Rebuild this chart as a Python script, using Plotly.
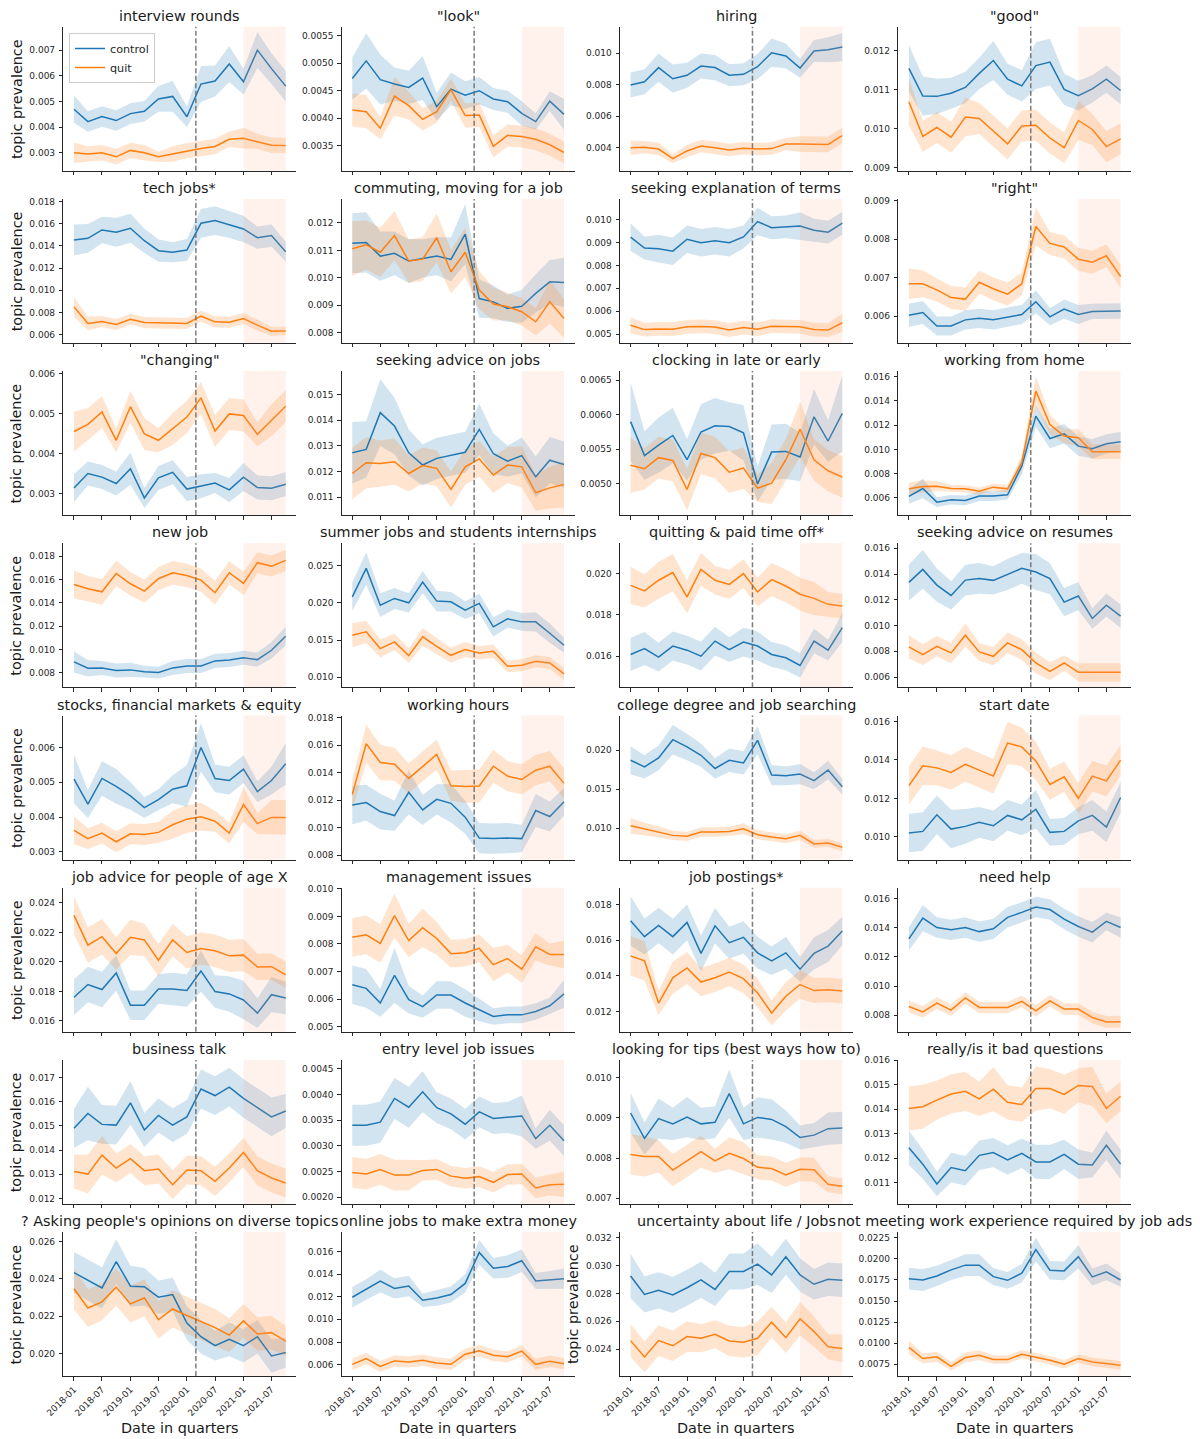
import pandas as pd
import plotly.graph_objects as go

# ---------------- data ----------------
quarters = pd.date_range("2018-01-01", periods=16, freq="QS")
covid_date = pd.Timestamp("2020-02-28")
shade_start = pd.Timestamp("2021-01-01")
shade_end = pd.Timestamp("2021-10-01")
x_tick_dates = pd.date_range("2018-01-01", "2021-07-01", freq="6MS")
x_tick_labels = ["2018-01", "2018-07", "2019-01", "2019-07", "2020-01", "2020-07", "2021-01", "2021-07"]

topics = [
    "interview rounds", '"look"', "hiring", '"good"',
    "tech jobs*", "commuting, moving for a job", "seeking explanation of terms", '"right"',
    '"changing"', "seeking advice on jobs", "clocking in late or early", "working from home",
    "new job", "summer jobs and students internships", "quitting & paid time off*", "seeking advice on resumes",
    "stocks, financial markets & equity", "working hours", "college degree and job searching", "start date",
    "job advice for people of age X", "management issues", "job postings*", "need help",
    "business talk", "entry level job issues", "looking for tips (best ways how to)", "really/is it bad questions",
    "? Asking people's opinions on diverse topics", "online jobs to make extra money",
    "uncertainty about life / Jobs", "not meeting work experience required by job ads",
]

t01_control = [0.00470, 0.00422, 0.00442, 0.00426, 0.00453, 0.00462, 0.00510, 0.00520, 0.00441, 0.00568, 0.00580, 0.00646, 0.00577, 0.00700, 0.00628, 0.00560]
t01_control_ci = [0.00053, 0.0004, 0.0004, 0.0004, 0.0004, 0.0004, 0.0005, 0.0006, 0.0004, 0.0007, 0.0006, 0.0007, 0.0005, 0.0007, 0.0006, 0.0006]
t01_quit = [0.00301, 0.00296, 0.00301, 0.00285, 0.00310, 0.00301, 0.00285, 0.00296, 0.00309, 0.00317, 0.00325, 0.00353, 0.00357, 0.00345, 0.00330, 0.00329]
t01_quit_ci = [0.0004, 0.0003, 0.0003, 0.0003, 0.0003, 0.0003, 0.0002, 0.0003, 0.0003, 0.0003, 0.0003, 0.0003, 0.0004, 0.0003, 0.0003, 0.0003]

t02_control = [0.00472, 0.00504, 0.00470, 0.00462, 0.00456, 0.00473, 0.00421, 0.00453, 0.00442, 0.00450, 0.00435, 0.00430, 0.00409, 0.00394, 0.00431, 0.00407]
t02_control_ci = [0.00038, 0.0005, 0.00045, 0.0003, 0.0003, 0.0004, 0.00025, 0.0003, 0.00025, 0.00025, 0.0002, 0.0002, 0.00022, 0.00015, 0.00018, 0.00028]
t02_quit = [0.00415, 0.00412, 0.00382, 0.00440, 0.00423, 0.00398, 0.00412, 0.00452, 0.00405, 0.00406, 0.00349, 0.00369, 0.00367, 0.00362, 0.00352, 0.00338]
t02_quit_ci = [0.0003, 0.0003, 0.0002, 0.00035, 0.00025, 0.0002, 0.0002, 0.0002, 0.00022, 0.00022, 0.0002, 0.0002, 0.0002, 0.0002, 0.0002, 0.0002]

t03_control = [0.00798, 0.00819, 0.00909, 0.00838, 0.00860, 0.00919, 0.00909, 0.00860, 0.00866, 0.00915, 0.01004, 0.00983, 0.00906, 0.01015, 0.01023, 0.01040]
t03_control_ci = [0.0008, 0.0008, 0.0009, 0.0009, 0.0008, 0.0008, 0.0008, 0.0007, 0.0007, 0.0008, 0.0009, 0.0008, 0.0006, 0.0007, 0.0008, 0.0009]
t03_quit = [0.00398, 0.00400, 0.00389, 0.00328, 0.00377, 0.00409, 0.00398, 0.00383, 0.00394, 0.00389, 0.00392, 0.00421, 0.00421, 0.00419, 0.00419, 0.00475]
t03_quit_ci = [0.00045, 0.0004, 0.0004, 0.0003, 0.0004, 0.0004, 0.0004, 0.0004, 0.0004, 0.0004, 0.0004, 0.0004, 0.0005, 0.0005, 0.0005, 0.0005]

t04_control = [0.01155, 0.01084, 0.01083, 0.01091, 0.01106, 0.01142, 0.01175, 0.01127, 0.01110, 0.01162, 0.01171, 0.01101, 0.01085, 0.01102, 0.01127, 0.01098]
t04_control_ci = [0.0006, 0.0005, 0.00045, 0.0004, 0.0004, 0.0004, 0.0005, 0.0004, 0.0004, 0.0006, 0.0006, 0.0004, 0.00038, 0.00035, 0.00035, 0.00035]
t04_quit = [0.01069, 0.00980, 0.01003, 0.00978, 0.01030, 0.01026, 0.00994, 0.00961, 0.01007, 0.01009, 0.00976, 0.00951, 0.01021, 0.00998, 0.00954, 0.00974]
t04_quit_ci = [0.0006, 0.0004, 0.0004, 0.0004, 0.0005, 0.0004, 0.0004, 0.0004, 0.0004, 0.0004, 0.0004, 0.0004, 0.0005, 0.0004, 0.0004, 0.0004]

t05_control = [0.01453, 0.01468, 0.01544, 0.01523, 0.01559, 0.01447, 0.01357, 0.01342, 0.01363, 0.01604, 0.01628, 0.01592, 0.01553, 0.01474, 0.01493, 0.01348]
t05_control_ci = [0.0014, 0.0013, 0.0012, 0.0013, 0.0013, 0.0011, 0.0010, 0.0009, 0.0010, 0.0013, 0.0013, 0.0012, 0.0012, 0.0010, 0.0010, 0.0009]
t05_quit = [0.00850, 0.00700, 0.00718, 0.00691, 0.00739, 0.00709, 0.00706, 0.00700, 0.00700, 0.00766, 0.00715, 0.00712, 0.00745, 0.00685, 0.00630, 0.00633]
t05_quit_ci = [0.0009, 0.0006, 0.0005, 0.0005, 0.0005, 0.0005, 0.0005, 0.0005, 0.0005, 0.0005, 0.0005, 0.0005, 0.0005, 0.0005, 0.0004, 0.0004]

t06_control = [0.01126, 0.01129, 0.01079, 0.01089, 0.01061, 0.01071, 0.01079, 0.01067, 0.01159, 0.00924, 0.00912, 0.00888, 0.00896, 0.00943, 0.00985, 0.00983]
t06_control_ci = [0.0011, 0.0011, 0.0009, 0.0008, 0.0008, 0.0007, 0.0007, 0.0008, 0.0011, 0.0007, 0.0006, 0.0005, 0.0006, 0.0007, 0.0008, 0.0009]
t06_quit = [0.01106, 0.01120, 0.01093, 0.01154, 0.01061, 0.01068, 0.01146, 0.01022, 0.01093, 0.00955, 0.00904, 0.00894, 0.00876, 0.00839, 0.00912, 0.00851]
t06_quit_ci = [0.0010, 0.0009, 0.0009, 0.0009, 0.0008, 0.0008, 0.0009, 0.0008, 0.0009, 0.0007, 0.0006, 0.0005, 0.0005, 0.0005, 0.0008, 0.0007]

t07_control = [0.00923, 0.00876, 0.00873, 0.00862, 0.00914, 0.00899, 0.00907, 0.00899, 0.00924, 0.00991, 0.00964, 0.00968, 0.00972, 0.00953, 0.00945, 0.00984]
t07_control_ci = [0.0006, 0.0005, 0.0006, 0.0006, 0.0006, 0.0006, 0.0006, 0.0006, 0.0005, 0.0006, 0.0005, 0.0005, 0.0006, 0.0005, 0.0005, 0.0005]
t07_quit = [0.00539, 0.00520, 0.00523, 0.00522, 0.00532, 0.00534, 0.00531, 0.00518, 0.00529, 0.00522, 0.00535, 0.00532, 0.00532, 0.00520, 0.00518, 0.00550]
t07_quit_ci = [0.00035, 0.0003, 0.0003, 0.0003, 0.0003, 0.0003, 0.0003, 0.0003, 0.0003, 0.0003, 0.0003, 0.0003, 0.0003, 0.0003, 0.0003, 0.0004]

t08_control = [0.00602, 0.00609, 0.00574, 0.00574, 0.00590, 0.00594, 0.00590, 0.00597, 0.00604, 0.00637, 0.00598, 0.00618, 0.00604, 0.00612, 0.00613, 0.00613]
t08_control_ci = [0.0003, 0.0003, 0.00025, 0.00025, 0.00025, 0.00025, 0.00025, 0.00025, 0.00025, 0.0003, 0.00022, 0.00025, 0.00025, 0.0002, 0.0002, 0.0002]
t08_quit = [0.00684, 0.00684, 0.00668, 0.00648, 0.00644, 0.00688, 0.00671, 0.00657, 0.00684, 0.00833, 0.00789, 0.00780, 0.00748, 0.00740, 0.00757, 0.00703]
t08_quit_ci = [0.0004, 0.00035, 0.0003, 0.0003, 0.0003, 0.0003, 0.0003, 0.0003, 0.0003, 0.0005, 0.0003, 0.0003, 0.0003, 0.0003, 0.0003, 0.0003]

t09_control = [0.00314, 0.00350, 0.00341, 0.00325, 0.00362, 0.00289, 0.00339, 0.00353, 0.00311, 0.00318, 0.00326, 0.00309, 0.00341, 0.00315, 0.00313, 0.00323]
t09_control_ci = [0.00035, 0.0003, 0.0003, 0.0003, 0.0004, 0.00025, 0.0003, 0.0003, 0.0003, 0.0003, 0.00025, 0.0003, 0.00035, 0.0003, 0.0003, 0.0003]
t09_quit = [0.00455, 0.00473, 0.00504, 0.00433, 0.00517, 0.00449, 0.00433, 0.00461, 0.00491, 0.00539, 0.00456, 0.00499, 0.00495, 0.00448, 0.00483, 0.00518]
t09_quit_ci = [0.0005, 0.0004, 0.0004, 0.0003, 0.0004, 0.0004, 0.0003, 0.0004, 0.0004, 0.0004, 0.0004, 0.0004, 0.0004, 0.0003, 0.0004, 0.0004]

t10_control = [0.01273, 0.01286, 0.01429, 0.01377, 0.01273, 0.01225, 0.01251, 0.01262, 0.01275, 0.01364, 0.01269, 0.01240, 0.01262, 0.01179, 0.01244, 0.01227]
t10_control_ci = [0.0012, 0.0011, 0.0013, 0.0011, 0.0009, 0.0008, 0.0008, 0.0008, 0.0008, 0.0010, 0.0008, 0.0006, 0.0007, 0.0008, 0.0009, 0.0009]
t10_quit = [0.01192, 0.01234, 0.01231, 0.01238, 0.01192, 0.01223, 0.01212, 0.01130, 0.01218, 0.01249, 0.01186, 0.01225, 0.01218, 0.01117, 0.01136, 0.01149]
t10_quit_ci = [0.0010, 0.0010, 0.0009, 0.0009, 0.0007, 0.0007, 0.0007, 0.0007, 0.0007, 0.0007, 0.0007, 0.0007, 0.0008, 0.0007, 0.0008, 0.0009]

t11_control = [0.00590, 0.00541, 0.00556, 0.00570, 0.00535, 0.00575, 0.00584, 0.00583, 0.00574, 0.00500, 0.00546, 0.00547, 0.00539, 0.00597, 0.00562, 0.00602]
t11_control_ci = [0.00057, 0.00035, 0.0004, 0.0004, 0.0003, 0.0004, 0.0004, 0.00035, 0.0004, 0.00025, 0.0004, 0.0004, 0.00035, 0.0004, 0.0003, 0.00055]
t11_quit = [0.00527, 0.00522, 0.00538, 0.00534, 0.00492, 0.00544, 0.00538, 0.00517, 0.00523, 0.00494, 0.00501, 0.00535, 0.00579, 0.00535, 0.00519, 0.00510]
t11_quit_ci = [0.0004, 0.0003, 0.0003, 0.0003, 0.0003, 0.0003, 0.0003, 0.0003, 0.0003, 0.0002, 0.0003, 0.0003, 0.0004, 0.0003, 0.0003, 0.0003]

t12_control = [0.00611, 0.00677, 0.00564, 0.00584, 0.00578, 0.00614, 0.00614, 0.00625, 0.00862, 0.01275, 0.01090, 0.01129, 0.01027, 0.01005, 0.01046, 0.01063]
t12_control_ci = [0.0006, 0.0008, 0.0004, 0.0004, 0.0004, 0.0004, 0.0004, 0.0004, 0.0007, 0.0009, 0.0008, 0.0008, 0.0008, 0.0008, 0.0008, 0.0008]
t12_quit = [0.00674, 0.00694, 0.00696, 0.00677, 0.00674, 0.00655, 0.00688, 0.00674, 0.00889, 0.01482, 0.01206, 0.01110, 0.01096, 0.00980, 0.00980, 0.00980]
t12_quit_ci = [0.0005, 0.0005, 0.0004, 0.0003, 0.0003, 0.0003, 0.0003, 0.0003, 0.0006, 0.0012, 0.0008, 0.0006, 0.0007, 0.0006, 0.0006, 0.0006]

t13_control = [0.00894, 0.00840, 0.00843, 0.00820, 0.00826, 0.00811, 0.00803, 0.00843, 0.00860, 0.00860, 0.00903, 0.00911, 0.00929, 0.00914, 0.00994, 0.01114]
t13_control_ci = [0.0009, 0.0007, 0.0006, 0.0006, 0.0006, 0.0005, 0.0005, 0.0006, 0.0006, 0.0006, 0.0006, 0.0006, 0.0006, 0.0006, 0.0007, 0.0008]
t13_quit = [0.01557, 0.01520, 0.01494, 0.01651, 0.01563, 0.01500, 0.01606, 0.01657, 0.01634, 0.01594, 0.01486, 0.01657, 0.01566, 0.01743, 0.01714, 0.01763]
t13_quit_ci = [0.0012, 0.0011, 0.0011, 0.0011, 0.0010, 0.0010, 0.0010, 0.0010, 0.0010, 0.0010, 0.0010, 0.0010, 0.0010, 0.0009, 0.0009, 0.0009]

t14_control = [0.02079, 0.02460, 0.01967, 0.02057, 0.01998, 0.02276, 0.02021, 0.02012, 0.01900, 0.01990, 0.01676, 0.01784, 0.01743, 0.01743, 0.01591, 0.01430]
t14_control_ci = [0.0019, 0.0022, 0.0016, 0.0014, 0.0013, 0.0015, 0.0014, 0.0013, 0.0012, 0.0013, 0.0013, 0.0012, 0.0012, 0.0013, 0.0013, 0.0010]
t14_quit = [0.01564, 0.01609, 0.01385, 0.01475, 0.01291, 0.01542, 0.01416, 0.01295, 0.01372, 0.01327, 0.01349, 0.01148, 0.01161, 0.01215, 0.01192, 0.01045]
t14_quit_ci = [0.0016, 0.0015, 0.0012, 0.0011, 0.0010, 0.0012, 0.0011, 0.0010, 0.0010, 0.0009, 0.0009, 0.0008, 0.0008, 0.0008, 0.0008, 0.0008]

t15_control = [0.01608, 0.01637, 0.01595, 0.01649, 0.01629, 0.01600, 0.01673, 0.01632, 0.01668, 0.01649, 0.01608, 0.01592, 0.01555, 0.01673, 0.01629, 0.01738]
t15_control_ci = [0.0008, 0.0008, 0.0007, 0.0007, 0.0007, 0.0007, 0.0007, 0.0006, 0.0007, 0.0007, 0.0006, 0.0006, 0.0006, 0.0006, 0.0005, 0.0007]
t15_quit = [0.01943, 0.01916, 0.01968, 0.02005, 0.01887, 0.02021, 0.01968, 0.01948, 0.02000, 0.01911, 0.01971, 0.01940, 0.01900, 0.01880, 0.01851, 0.01843]
t15_quit_ci = [0.0009, 0.0008, 0.0009, 0.0009, 0.0008, 0.0008, 0.0007, 0.0007, 0.0007, 0.0007, 0.0008, 0.0008, 0.0008, 0.0008, 0.0006, 0.0006]

t16_control = [0.01335, 0.01436, 0.01314, 0.01234, 0.01353, 0.01366, 0.01351, 0.01397, 0.01444, 0.01416, 0.01364, 0.01182, 0.01229, 0.01055, 0.01158, 0.01073]
t16_control_ci = [0.0014, 0.0015, 0.0013, 0.0011, 0.0012, 0.0012, 0.0011, 0.0012, 0.0012, 0.0014, 0.0012, 0.0011, 0.0011, 0.0008, 0.0009, 0.0009]
t16_quit = [0.00834, 0.00774, 0.00839, 0.00787, 0.00925, 0.00795, 0.00761, 0.00865, 0.00813, 0.00709, 0.00644, 0.00709, 0.00636, 0.00636, 0.00636, 0.00636]
t16_quit_ci = [0.0009, 0.0008, 0.0008, 0.0008, 0.0009, 0.0007, 0.0007, 0.0008, 0.0008, 0.0008, 0.0007, 0.0006, 0.0007, 0.0007, 0.0007, 0.0007]

t17_control = [0.00509, 0.00437, 0.00511, 0.00488, 0.00461, 0.00427, 0.00450, 0.00480, 0.00490, 0.00600, 0.00511, 0.00505, 0.00538, 0.00473, 0.00505, 0.00553]
t17_control_ci = [0.0007, 0.0004, 0.0005, 0.0005, 0.0004, 0.0003, 0.0003, 0.0004, 0.0006, 0.0007, 0.0004, 0.0004, 0.0004, 0.0003, 0.0004, 0.0006]
t17_quit = [0.00362, 0.00338, 0.00354, 0.00329, 0.00352, 0.00350, 0.00356, 0.00378, 0.00394, 0.00401, 0.00388, 0.00354, 0.00436, 0.00381, 0.00399, 0.00399]
t17_quit_ci = [0.0004, 0.0003, 0.0003, 0.0003, 0.0003, 0.0003, 0.0003, 0.0004, 0.0004, 0.0004, 0.0003, 0.0003, 0.0005, 0.0003, 0.0005, 0.0005]

t18_control = [0.01166, 0.01183, 0.01118, 0.01089, 0.01258, 0.01130, 0.01207, 0.01178, 0.01077, 0.00925, 0.00921, 0.00925, 0.00921, 0.01125, 0.01082, 0.01190]
t18_control_ci = [0.0014, 0.0013, 0.0013, 0.0011, 0.0016, 0.0011, 0.0011, 0.0014, 0.0012, 0.0011, 0.0011, 0.0011, 0.0010, 0.0012, 0.0011, 0.0010]
t18_quit = [0.01243, 0.01612, 0.01475, 0.01463, 0.01359, 0.01448, 0.01533, 0.01306, 0.01301, 0.01304, 0.01448, 0.01376, 0.01352, 0.01419, 0.01448, 0.01323]
t18_quit_ci = [0.0011, 0.0014, 0.0013, 0.0012, 0.0011, 0.0011, 0.0011, 0.0011, 0.0012, 0.0012, 0.0012, 0.0011, 0.0011, 0.0011, 0.0011, 0.0011]

t19_control = [0.01872, 0.01787, 0.01902, 0.02136, 0.02043, 0.01936, 0.01766, 0.01872, 0.01838, 0.02128, 0.01681, 0.01672, 0.01694, 0.01609, 0.01745, 0.01532]
t19_control_ci = [0.0018, 0.0015, 0.0016, 0.0019, 0.0017, 0.0015, 0.0013, 0.0015, 0.0015, 0.0018, 0.0013, 0.0012, 0.0013, 0.0011, 0.0012, 0.0010]
t19_quit = [0.01030, 0.00987, 0.00949, 0.00906, 0.00894, 0.00949, 0.00949, 0.00957, 0.00992, 0.00915, 0.00885, 0.00864, 0.00906, 0.00796, 0.00809, 0.00753]
t19_quit_ci = [0.0010, 0.0008, 0.0007, 0.0006, 0.0006, 0.0006, 0.0006, 0.0006, 0.0007, 0.0006, 0.0006, 0.0006, 0.0006, 0.0005, 0.0005, 0.0005]

t20_control = [0.01021, 0.01029, 0.01115, 0.01041, 0.01055, 0.01076, 0.01058, 0.01112, 0.01089, 0.01144, 0.01024, 0.01029, 0.01084, 0.01112, 0.01052, 0.01205]
t20_control_ci = [0.0010, 0.0010, 0.0010, 0.0010, 0.0009, 0.0008, 0.0008, 0.0008, 0.0008, 0.0010, 0.0007, 0.0007, 0.0007, 0.0008, 0.0008, 0.0008]
t20_quit = [0.01267, 0.01370, 0.01359, 0.01335, 0.01377, 0.01347, 0.01316, 0.01488, 0.01468, 0.01395, 0.01273, 0.01313, 0.01201, 0.01316, 0.01291, 0.01399]
t20_quit_ci = [0.0010, 0.0010, 0.0009, 0.0009, 0.0009, 0.0009, 0.0009, 0.0011, 0.0010, 0.0010, 0.0008, 0.0008, 0.0008, 0.0008, 0.0008, 0.0008]

t21_control = [0.01760, 0.01847, 0.01813, 0.01925, 0.01707, 0.01707, 0.01817, 0.01817, 0.01806, 0.01938, 0.01799, 0.01783, 0.01742, 0.01653, 0.01778, 0.01755]
t21_control_ci = [0.0012, 0.0012, 0.0012, 0.0012, 0.0010, 0.0010, 0.0010, 0.0011, 0.0011, 0.0014, 0.0011, 0.0012, 0.0013, 0.0010, 0.0012, 0.0011]
t21_quit = [0.02315, 0.02114, 0.02171, 0.02057, 0.02167, 0.02149, 0.02011, 0.02149, 0.02064, 0.02091, 0.02075, 0.02041, 0.02046, 0.01966, 0.01968, 0.01913]
t21_quit_ci = [0.0013, 0.0012, 0.0012, 0.0011, 0.0012, 0.0011, 0.0011, 0.0011, 0.0011, 0.0011, 0.0011, 0.0011, 0.0011, 0.0009, 0.0009, 0.0009]

t22_control = [0.00652, 0.00639, 0.00586, 0.00686, 0.00598, 0.00573, 0.00615, 0.00615, 0.00586, 0.00560, 0.00537, 0.00543, 0.00543, 0.00555, 0.00576, 0.00619]
t22_control_ci = [0.0007, 0.0007, 0.0005, 0.0010, 0.0005, 0.0004, 0.0005, 0.0005, 0.0005, 0.0004, 0.0003, 0.0003, 0.0003, 0.0003, 0.0003, 0.0005]
t22_quit = [0.00824, 0.00833, 0.00802, 0.00903, 0.00812, 0.00859, 0.00820, 0.00765, 0.00768, 0.00784, 0.00725, 0.00747, 0.00709, 0.00790, 0.00762, 0.00762]
t22_quit_ci = [0.0007, 0.0007, 0.0007, 0.0008, 0.0006, 0.0007, 0.0006, 0.0005, 0.0005, 0.0005, 0.0006, 0.0005, 0.0005, 0.0005, 0.0004, 0.0005]

t23_control = [0.01709, 0.01620, 0.01683, 0.01620, 0.01700, 0.01526, 0.01681, 0.01586, 0.01616, 0.01529, 0.01484, 0.01529, 0.01437, 0.01526, 0.01567, 0.01652]
t23_control_ci = [0.0014, 0.0010, 0.0010, 0.0010, 0.0010, 0.0010, 0.0010, 0.0009, 0.0009, 0.0009, 0.0008, 0.0009, 0.0007, 0.0009, 0.0009, 0.0008]
t23_quit = [0.01512, 0.01484, 0.01247, 0.01389, 0.01444, 0.01365, 0.01389, 0.01421, 0.01384, 0.01304, 0.01191, 0.01285, 0.01351, 0.01317, 0.01321, 0.01314]
t23_quit_ci = [0.0011, 0.0011, 0.0007, 0.0009, 0.0009, 0.0008, 0.0008, 0.0008, 0.0008, 0.0008, 0.0007, 0.0008, 0.0008, 0.0007, 0.0007, 0.0007]

t24_control = [0.01323, 0.01466, 0.01401, 0.01385, 0.01401, 0.01373, 0.01392, 0.01471, 0.01505, 0.01542, 0.01524, 0.01459, 0.01408, 0.01369, 0.01443, 0.01401]
t24_control_ci = [0.0008, 0.0009, 0.0007, 0.0007, 0.0007, 0.0007, 0.0007, 0.0007, 0.0007, 0.0007, 0.0007, 0.0007, 0.0007, 0.0007, 0.0006, 0.0007]
t24_quit = [0.00860, 0.00823, 0.00883, 0.00835, 0.00918, 0.00853, 0.00853, 0.00853, 0.00895, 0.00830, 0.00899, 0.00842, 0.00842, 0.00784, 0.00754, 0.00756]
t24_quit_ci = [0.0004, 0.0004, 0.0004, 0.0004, 0.0004, 0.0004, 0.0004, 0.0004, 0.0004, 0.0004, 0.0004, 0.0004, 0.0004, 0.0004, 0.0004, 0.0004]

t25_control = [0.01490, 0.01551, 0.01506, 0.01503, 0.01595, 0.01483, 0.01543, 0.01503, 0.01537, 0.01652, 0.01625, 0.01660, 0.01613, 0.01574, 0.01537, 0.01561]
t25_control_ci = [0.0008, 0.0011, 0.0008, 0.0008, 0.0009, 0.0007, 0.0007, 0.0007, 0.0007, 0.0008, 0.0008, 0.0008, 0.0008, 0.0008, 0.0008, 0.0007]
t25_quit = [0.01312, 0.01301, 0.01379, 0.01326, 0.01365, 0.01315, 0.01322, 0.01257, 0.01318, 0.01315, 0.01271, 0.01326, 0.01390, 0.01315, 0.01285, 0.01264]
t25_quit_ci = [0.0007, 0.0008, 0.0008, 0.0006, 0.0006, 0.0006, 0.0006, 0.0006, 0.0006, 0.0006, 0.0006, 0.0006, 0.0006, 0.0006, 0.0006, 0.0006]

t26_control = [0.00340, 0.00340, 0.00346, 0.00392, 0.00375, 0.00405, 0.00374, 0.00362, 0.00342, 0.00366, 0.00353, 0.00355, 0.00358, 0.00314, 0.00340, 0.00310]
t26_control_ci = [0.0004, 0.0004, 0.0004, 0.0004, 0.0004, 0.0004, 0.0003, 0.0003, 0.0003, 0.0003, 0.0003, 0.0003, 0.0004, 0.0002, 0.0003, 0.0003]
t26_quit = [0.00248, 0.00245, 0.00254, 0.00243, 0.00243, 0.00252, 0.00254, 0.00241, 0.00237, 0.00240, 0.00229, 0.00244, 0.00245, 0.00218, 0.00224, 0.00225]
t26_quit_ci = [0.0003, 0.0003, 0.0003, 0.0003, 0.0003, 0.0002, 0.0002, 0.0002, 0.0002, 0.0002, 0.0002, 0.0002, 0.0002, 0.0002, 0.0002, 0.00025]

t27_control = [0.00912, 0.00849, 0.00898, 0.00885, 0.00902, 0.00885, 0.00889, 0.00960, 0.00885, 0.00901, 0.00896, 0.00878, 0.00851, 0.00857, 0.00873, 0.00875]
t27_control_ci = [0.0005, 0.0004, 0.0005, 0.0004, 0.0005, 0.0004, 0.0004, 0.0006, 0.0004, 0.0005, 0.0005, 0.0004, 0.0003, 0.0003, 0.0004, 0.0004]
t27_quit = [0.00809, 0.00804, 0.00804, 0.00770, 0.00793, 0.00816, 0.00793, 0.00812, 0.00799, 0.00777, 0.00774, 0.00758, 0.00772, 0.00771, 0.00735, 0.00730]
t27_quit_ci = [0.0005, 0.0005, 0.0004, 0.0004, 0.0004, 0.0004, 0.0003, 0.0004, 0.0004, 0.0003, 0.0003, 0.0003, 0.0003, 0.0003, 0.0002, 0.0002]

t28_control = [0.01243, 0.01176, 0.01095, 0.01162, 0.01149, 0.01212, 0.01223, 0.01193, 0.01220, 0.01185, 0.01185, 0.01216, 0.01176, 0.01173, 0.01253, 0.01176]
t28_control_ci = [0.0007, 0.0006, 0.0005, 0.0006, 0.0006, 0.0006, 0.0006, 0.0006, 0.0006, 0.0007, 0.0007, 0.0006, 0.0006, 0.0005, 0.0006, 0.0006]
t28_quit = [0.01403, 0.01410, 0.01437, 0.01462, 0.01473, 0.01442, 0.01482, 0.01428, 0.01419, 0.01484, 0.01484, 0.01460, 0.01497, 0.01493, 0.01403, 0.01453]
t28_quit_ci = [0.0009, 0.0009, 0.0008, 0.0008, 0.0008, 0.0007, 0.0009, 0.0007, 0.0007, 0.0009, 0.0008, 0.0008, 0.0007, 0.0008, 0.0006, 0.0006]

t29_control = [0.02434, 0.02392, 0.02352, 0.02493, 0.02361, 0.02358, 0.02302, 0.02316, 0.02163, 0.02090, 0.02042, 0.02076, 0.02042, 0.02090, 0.01987, 0.02005]
t29_control_ci = [0.0011, 0.0011, 0.0011, 0.0012, 0.0011, 0.0010, 0.0009, 0.0009, 0.0009, 0.0009, 0.0008, 0.0009, 0.0009, 0.0009, 0.0009, 0.0008]
t29_quit = [0.02347, 0.02244, 0.02277, 0.02356, 0.02266, 0.02298, 0.02181, 0.02239, 0.02204, 0.02172, 0.02139, 0.02099, 0.02175, 0.02105, 0.02112, 0.02067]
t29_quit_ci = [0.0011, 0.0010, 0.0010, 0.0010, 0.0010, 0.0010, 0.0010, 0.0010, 0.0010, 0.0010, 0.0010, 0.0009, 0.0009, 0.0009, 0.0009, 0.0008]

t30_control = [0.01195, 0.01264, 0.01338, 0.01273, 0.01294, 0.01169, 0.01189, 0.01219, 0.01317, 0.01591, 0.01451, 0.01466, 0.01517, 0.01338, 0.01347, 0.01359]
t30_control_ci = [0.0009, 0.0009, 0.0010, 0.0009, 0.0009, 0.0006, 0.0007, 0.0007, 0.0008, 0.0011, 0.0009, 0.0010, 0.0010, 0.0007, 0.0008, 0.0009]
t30_quit = [0.00603, 0.00654, 0.00585, 0.00633, 0.00624, 0.00639, 0.00615, 0.00603, 0.00692, 0.00722, 0.00683, 0.00669, 0.00719, 0.00603, 0.00630, 0.00609]
t30_quit_ci = [0.0005, 0.0005, 0.0005, 0.0005, 0.0005, 0.0005, 0.0005, 0.0005, 0.0005, 0.0005, 0.0005, 0.0005, 0.0005, 0.0005, 0.0005, 0.0005]

t31_control = [0.02926, 0.02793, 0.02822, 0.02790, 0.02841, 0.02897, 0.02829, 0.02958, 0.02958, 0.03011, 0.02933, 0.03064, 0.02933, 0.02866, 0.02902, 0.02895]
t31_control_ci = [0.0016, 0.0013, 0.0013, 0.0013, 0.0013, 0.0013, 0.0012, 0.0013, 0.0013, 0.0015, 0.0013, 0.0013, 0.0012, 0.0011, 0.0012, 0.0012]
t31_quit = [0.02461, 0.02344, 0.02461, 0.02424, 0.02490, 0.02478, 0.02507, 0.02458, 0.02449, 0.02478, 0.02594, 0.02482, 0.02618, 0.02526, 0.02417, 0.02405]
t31_quit_ci = [0.0012, 0.0011, 0.0011, 0.0011, 0.0011, 0.0010, 0.0010, 0.0011, 0.0011, 0.0012, 0.0011, 0.0011, 0.0012, 0.0011, 0.0009, 0.0010]

t32_control = [0.01766, 0.01750, 0.01798, 0.01870, 0.01926, 0.01926, 0.01790, 0.01746, 0.01830, 0.02110, 0.01866, 0.01858, 0.02026, 0.01786, 0.01846, 0.01750]
t32_control_ci = [0.0013, 0.0013, 0.0012, 0.0012, 0.0013, 0.0013, 0.0010, 0.0010, 0.0011, 0.0014, 0.0011, 0.0011, 0.0014, 0.0010, 0.0010, 0.0008]
t32_quit = [0.00950, 0.00818, 0.00838, 0.00726, 0.00830, 0.00858, 0.00806, 0.00806, 0.00870, 0.00838, 0.00798, 0.00750, 0.00818, 0.00778, 0.00758, 0.00738]
t32_quit_ci = [0.0008, 0.0006, 0.0006, 0.0005, 0.0006, 0.0006, 0.0005, 0.0005, 0.0005, 0.0005, 0.0005, 0.0005, 0.0005, 0.0005, 0.0005, 0.0005]

series = [
    (t01_control, t01_control_ci, t01_quit, t01_quit_ci), (t02_control, t02_control_ci, t02_quit, t02_quit_ci),
    (t03_control, t03_control_ci, t03_quit, t03_quit_ci), (t04_control, t04_control_ci, t04_quit, t04_quit_ci),
    (t05_control, t05_control_ci, t05_quit, t05_quit_ci), (t06_control, t06_control_ci, t06_quit, t06_quit_ci),
    (t07_control, t07_control_ci, t07_quit, t07_quit_ci), (t08_control, t08_control_ci, t08_quit, t08_quit_ci),
    (t09_control, t09_control_ci, t09_quit, t09_quit_ci), (t10_control, t10_control_ci, t10_quit, t10_quit_ci),
    (t11_control, t11_control_ci, t11_quit, t11_quit_ci), (t12_control, t12_control_ci, t12_quit, t12_quit_ci),
    (t13_control, t13_control_ci, t13_quit, t13_quit_ci), (t14_control, t14_control_ci, t14_quit, t14_quit_ci),
    (t15_control, t15_control_ci, t15_quit, t15_quit_ci), (t16_control, t16_control_ci, t16_quit, t16_quit_ci),
    (t17_control, t17_control_ci, t17_quit, t17_quit_ci), (t18_control, t18_control_ci, t18_quit, t18_quit_ci),
    (t19_control, t19_control_ci, t19_quit, t19_quit_ci), (t20_control, t20_control_ci, t20_quit, t20_quit_ci),
    (t21_control, t21_control_ci, t21_quit, t21_quit_ci), (t22_control, t22_control_ci, t22_quit, t22_quit_ci),
    (t23_control, t23_control_ci, t23_quit, t23_quit_ci), (t24_control, t24_control_ci, t24_quit, t24_quit_ci),
    (t25_control, t25_control_ci, t25_quit, t25_quit_ci), (t26_control, t26_control_ci, t26_quit, t26_quit_ci),
    (t27_control, t27_control_ci, t27_quit, t27_quit_ci), (t28_control, t28_control_ci, t28_quit, t28_quit_ci),
    (t29_control, t29_control_ci, t29_quit, t29_quit_ci), (t30_control, t30_control_ci, t30_quit, t30_quit_ci),
    (t31_control, t31_control_ci, t31_quit, t31_quit_ci), (t32_control, t32_control_ci, t32_quit, t32_quit_ci),
]

# axis settings per panel (range, tick step, tick format)
y_ranges = [
    (0.00231, 0.00791), (0.00305, 0.00566), (0.00251, 0.01170), (0.00892, 0.01262),
    (0.00525, 0.01824), (0.00762, 0.01288), (0.00462, 0.01090), (0.00530, 0.00905),
    (0.00246, 0.00606), (0.01030, 0.01591), (0.00455, 0.00663), (0.00457, 0.01647),
    (0.00677, 0.01909), (0.00866, 0.02796), (0.01449, 0.02147), (0.00520, 0.01639),
    (0.00278, 0.00692), (0.00769, 0.01817), (0.00596, 0.02447), (0.00883, 0.01631),
    (0.01527, 0.02503), (0.00482, 0.01004), (0.01086, 0.01895), (0.00687, 0.01674),
    (0.01178, 0.01772), (0.00187, 0.00467), (0.00686, 0.01044), (0.01014, 0.01601),
    (0.01879, 0.02651), (0.00499, 0.01770), (0.02206, 0.03241), (0.00610, 0.02318),
]
y_dticks = [
    0.001, 0.0005, 0.002, 0.001,
    0.002, 0.001, 0.001, 0.001,
    0.001, 0.001, 0.0005, 0.002,
    0.002, 0.005, 0.002, 0.002,
    0.001, 0.002, 0.005, 0.002,
    0.002, 0.001, 0.002, 0.002,
    0.001, 0.0005, 0.001, 0.001,
    0.002, 0.002, 0.002, 0.0025,
]
y_formats = [".4f" if d in (0.0005, 0.0025) else ".3f" for d in y_dticks]

# ---------------- figure ----------------
PAGE = 8  # default page margin of the html body; positions below are page pixels
W, H = 1200 - PAGE, 1439 - PAGE
BLUE, ORANGE = "#1f77b4", "#ff7f0e"
BLUE_BAND, ORANGE_BAND = "rgba(31,119,180,0.2)", "rgba(255,127,14,0.2)"
AX_COLOR = "#262626"
TXT_COLOR = "#1a1a1a"
FONT = "DejaVu Sans"

left0, pitch_x, pw = 63.4 - PAGE, 278.3, 232.9
top0, pitch_y, ph = 26.7 - PAGE, 172.2, 144.0

span = quarters[-1] - quarters[0]
x_lo = quarters[0] - span * 0.05
x_hi = quarters[-1] + span * 0.05

fig = go.Figure()
layout = dict(
    width=W, height=H, margin=dict(l=0, r=0, t=0, b=0),
    paper_bgcolor="white", plot_bgcolor="white",
    font=dict(family=FONT, color=AX_COLOR),
    template="none",
    showlegend=True,
    legend=dict(x=(69 - PAGE) / W, y=1 - (33 - PAGE) / H, xanchor="left", yanchor="top",
                bgcolor="rgba(255,255,255,0.85)", bordercolor="#cccccc", borderwidth=1,
                font=dict(size=11.2, family=FONT, color=AX_COLOR), tracegroupgap=0,
                itemwidth=30),
)
shapes, annotations = [], []

xs_band = list(quarters) + list(quarters[::-1])

for i, (ctrl, ctrl_ci, qt, qt_ci) in enumerate(series):
    r, c = divmod(i, 4)
    n = i + 1
    xa = "x" if n == 1 else f"x{n}"
    ya = "y" if n == 1 else f"y{n}"
    left = left0 + pitch_x * c
    top = top0 + pitch_y * r
    xd = [left / W, (left + pw) / W]
    yd = [1 - (top + ph) / H, 1 - top / H]

    for mean, ci, band in ((ctrl, ctrl_ci, BLUE_BAND), (qt, qt_ci, ORANGE_BAND)):
        upper = [m + e for m, e in zip(mean, ci)]
        lower = [m - e for m, e in zip(mean, ci)]
        fig.add_trace(go.Scatter(x=xs_band, y=upper + lower[::-1], fill="toself", fillcolor=band,
                                 line=dict(width=0), mode="lines", hoverinfo="skip",
                                 showlegend=False, xaxis=xa, yaxis=ya))
    for mean, color, name in ((ctrl, BLUE, "control"), (qt, ORANGE, "quit")):
        fig.add_trace(go.Scatter(x=list(quarters), y=mean, mode="lines", name=name,
                                 line=dict(color=color, width=1.5),
                                 showlegend=(i == 0), xaxis=xa, yaxis=ya))

    axis_common = dict(showline=True, linecolor=AX_COLOR, linewidth=1, mirror=False,
                       ticks="outside", ticklen=3.5, tickwidth=0.8, tickcolor=AX_COLOR,
                       showgrid=False, zeroline=False,
                       tickfont=dict(size=9, family=FONT, color=AX_COLOR))
    layout["xaxis" if n == 1 else f"xaxis{n}"] = dict(
        domain=xd, anchor=ya, type="date", range=[x_lo, x_hi],
        tickvals=list(x_tick_dates), ticktext=x_tick_labels, tickangle=-45,
        showticklabels=(r == 7), **axis_common)
    layout["yaxis" if n == 1 else f"yaxis{n}"] = dict(
        domain=yd, anchor=xa, range=list(y_ranges[i]), tick0=0, dtick=y_dticks[i],
        tickformat=y_formats[i], ticklabelstandoff=2, **axis_common)

    # shaded period and dashed event line
    shapes.append(dict(type="rect", xref=xa, yref=f"{ya} domain", x0=shade_start, x1=shade_end,
                       y0=0, y1=1, fillcolor="rgba(255,160,122,0.14)", line=dict(width=0),
                       layer="above"))
    shapes.append(dict(type="line", xref=xa, yref=f"{ya} domain", x0=covid_date, x1=covid_date,
                       y0=0, y1=1, line=dict(color="rgba(110,110,110,0.9)", width=1.5, dash="5px,2.5px"),
                       layer="above"))

    # subplot title
    annotations.append(dict(text=topics[i], x=(left + pw / 2) / W, y=yd[1], xref="paper", yref="paper",
                            xanchor="center", yanchor="bottom", yshift=1, showarrow=False,
                            font=dict(size=14.4, family=FONT, color=TXT_COLOR)))
    # y label
    if c == 0 or (r == 7 and c == 2):
        annotations.append(dict(text="topic prevalence", x=(left - 47) / W, y=(yd[0] + yd[1]) / 2,
                                xref="paper", yref="paper", xanchor="center", yanchor="middle",
                                textangle=-90, showarrow=False,
                                font=dict(size=14.4, family=FONT, color=TXT_COLOR)))
    # x label
    if r == 7:
        annotations.append(dict(text="Date in quarters", x=(left + pw / 2) / W, y=1 - (1428.3 - PAGE) / H,
                                xref="paper", yref="paper", xanchor="center", yanchor="middle",
                                showarrow=False, font=dict(size=14.4, family=FONT, color=TXT_COLOR)))

layout["shapes"] = shapes
layout["annotations"] = annotations
fig.update_layout(**layout)
fig.write_html("out.html")
